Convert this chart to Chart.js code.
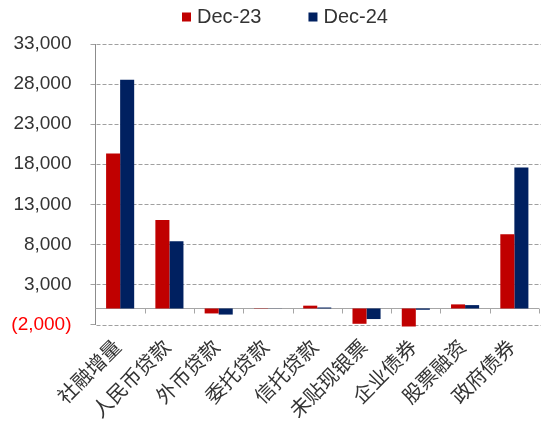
<!DOCTYPE html>
<html>
<head>
<meta charset="utf-8">
<script src="https://cdn.jsdelivr.net/npm/chart.js@4"></script>
<style>
  html, body { margin: 0; padding: 0; background: #ffffff; }
  #c { display: block; }
</style>
</head>
<body>
<canvas id="c" width="543" height="428"></canvas>
<script>
// Monthly social financing components (100 million yuan)
const categories = ['社融增量', '人民币贷款', '外币贷款', '委托贷款', '信托贷款', '未贴现银票', '企业债券', '股票融资', '政府债券'];
const seriesNames = ['Dec-23', 'Dec-24'];
const dec23 = [19330, 11050, -620, 40, 350, -1910, -2250, 510, 9250];
const dec24 = [28550, 8380, -760, 15, 120, -1320, -160, 420, 17600];
const yTicks = [-2000, 3000, 8000, 13000, 18000, 23000, 28000, 33000];

const seriesColors = ['#C00000', '#002060'];
const textColor = '#333333';
const negColor = '#FF0000';
const gridColor = '#A0A0A0';

function fmt(v) {
  const s = Math.abs(v).toLocaleString('en-US');
  return v < 0 ? '(' + s + ')' : s;
}

// Dashed horizontal grid, then a solid zero axis with tick marks between categories
const plotGuides = {
  id: 'plotGuides',
  beforeDatasetsDraw(chart) {
    const { ctx, chartArea, scales } = chart;
    ctx.save();
    ctx.lineWidth = 1;

    ctx.strokeStyle = gridColor;
    ctx.setLineDash([4, 2]);
    ctx.beginPath();
    scales.y.ticks.forEach(t => {
      const y = Math.round(scales.y.getPixelForValue(t.value)) + 0.5;
      ctx.moveTo(chartArea.left + 1, y);
      ctx.lineTo(chartArea.right + 2, y);
    });
    ctx.stroke();

    ctx.setLineDash([]);
    ctx.strokeStyle = '#A6A6A6';
    const y0 = Math.round(scales.y.getPixelForValue(0)) + 0.5;
    const n = categories.length;
    const w = (chartArea.right - chartArea.left) / n;
    ctx.beginPath();
    ctx.moveTo(chartArea.left, y0);
    ctx.lineTo(chartArea.right, y0);
    for (let i = 1; i <= n; i++) {
      const x = Math.round(chartArea.left + i * w) + 0.5;
      ctx.moveTo(x, y0);
      ctx.lineTo(x, y0 + 5);
    }
    ctx.stroke();
    ctx.restore();
  }
};

// Legend row across the top
const topLegend = {
  id: 'topLegend',
  afterDraw(chart) {
    const { ctx } = chart;
    ctx.save();
    ctx.font = '20px "Liberation Sans", Arial, sans-serif';
    ctx.textBaseline = 'middle';
    let x = 182;
    const yMid = 17;
    chart.data.datasets.forEach(ds => {
      ctx.fillStyle = ds.backgroundColor;
      ctx.fillRect(x, yMid - 4.5, 9, 9);
      ctx.fillStyle = textColor;
      ctx.fillText(ds.label, x + 15, yMid);
      x += 15 + ctx.measureText(ds.label).width + 47;
    });
    ctx.restore();
  }
};

new Chart(document.getElementById('c'), {
  type: 'bar',
  data: {
    labels: categories,
    datasets: [
      { label: seriesNames[0], data: dec23, backgroundColor: seriesColors[0], clip: false },
      { label: seriesNames[1], data: dec24, backgroundColor: seriesColors[1], clip: false }
    ]
  },
  options: {
    responsive: false,
    animation: false,
    devicePixelRatio: 1,
    layout: { padding: { top: 44, right: 4, left: 0, bottom: 0 } },
    datasets: { bar: { categoryPercentage: 0.57, barPercentage: 1.0 } },
    plugins: {
      legend: { display: false },
      tooltip: { enabled: false }
    },
    scales: {
      x: {
        grid: { display: false },
        border: { display: false },
        ticks: {
          autoSkip: false,
          minRotation: 45,
          maxRotation: 45,
          padding: 2,
          labelOffset: -3,
          color: textColor,
          font: { family: '"Noto Sans CJK SC", sans-serif', size: 20 }
        },
        afterFit(scale) { scale.height = 103.5; }
      },
      y: {
        min: -2000,
        max: 33000,
        afterBuildTicks(scale) { scale.ticks = yTicks.map(v => ({ value: v })); },
        grid: {
          drawOnChartArea: false,
          drawTicks: true,
          tickLength: 5,
          tickColor: gridColor
        },
        border: { display: true, color: '#8C8C8C', width: 1 },
        ticks: {
          padding: 19,
          color: ctx => (ctx.tick && ctx.tick.value < 0 ? negColor : textColor),
          font: { family: '"Liberation Sans", Arial, sans-serif', size: 19 },
          callback: v => fmt(v)
        },
        afterFit(scale) { scale.width = 95.5; }
      }
    }
  },
  plugins: [plotGuides, topLegend]
});
</script>
</body>
</html>
